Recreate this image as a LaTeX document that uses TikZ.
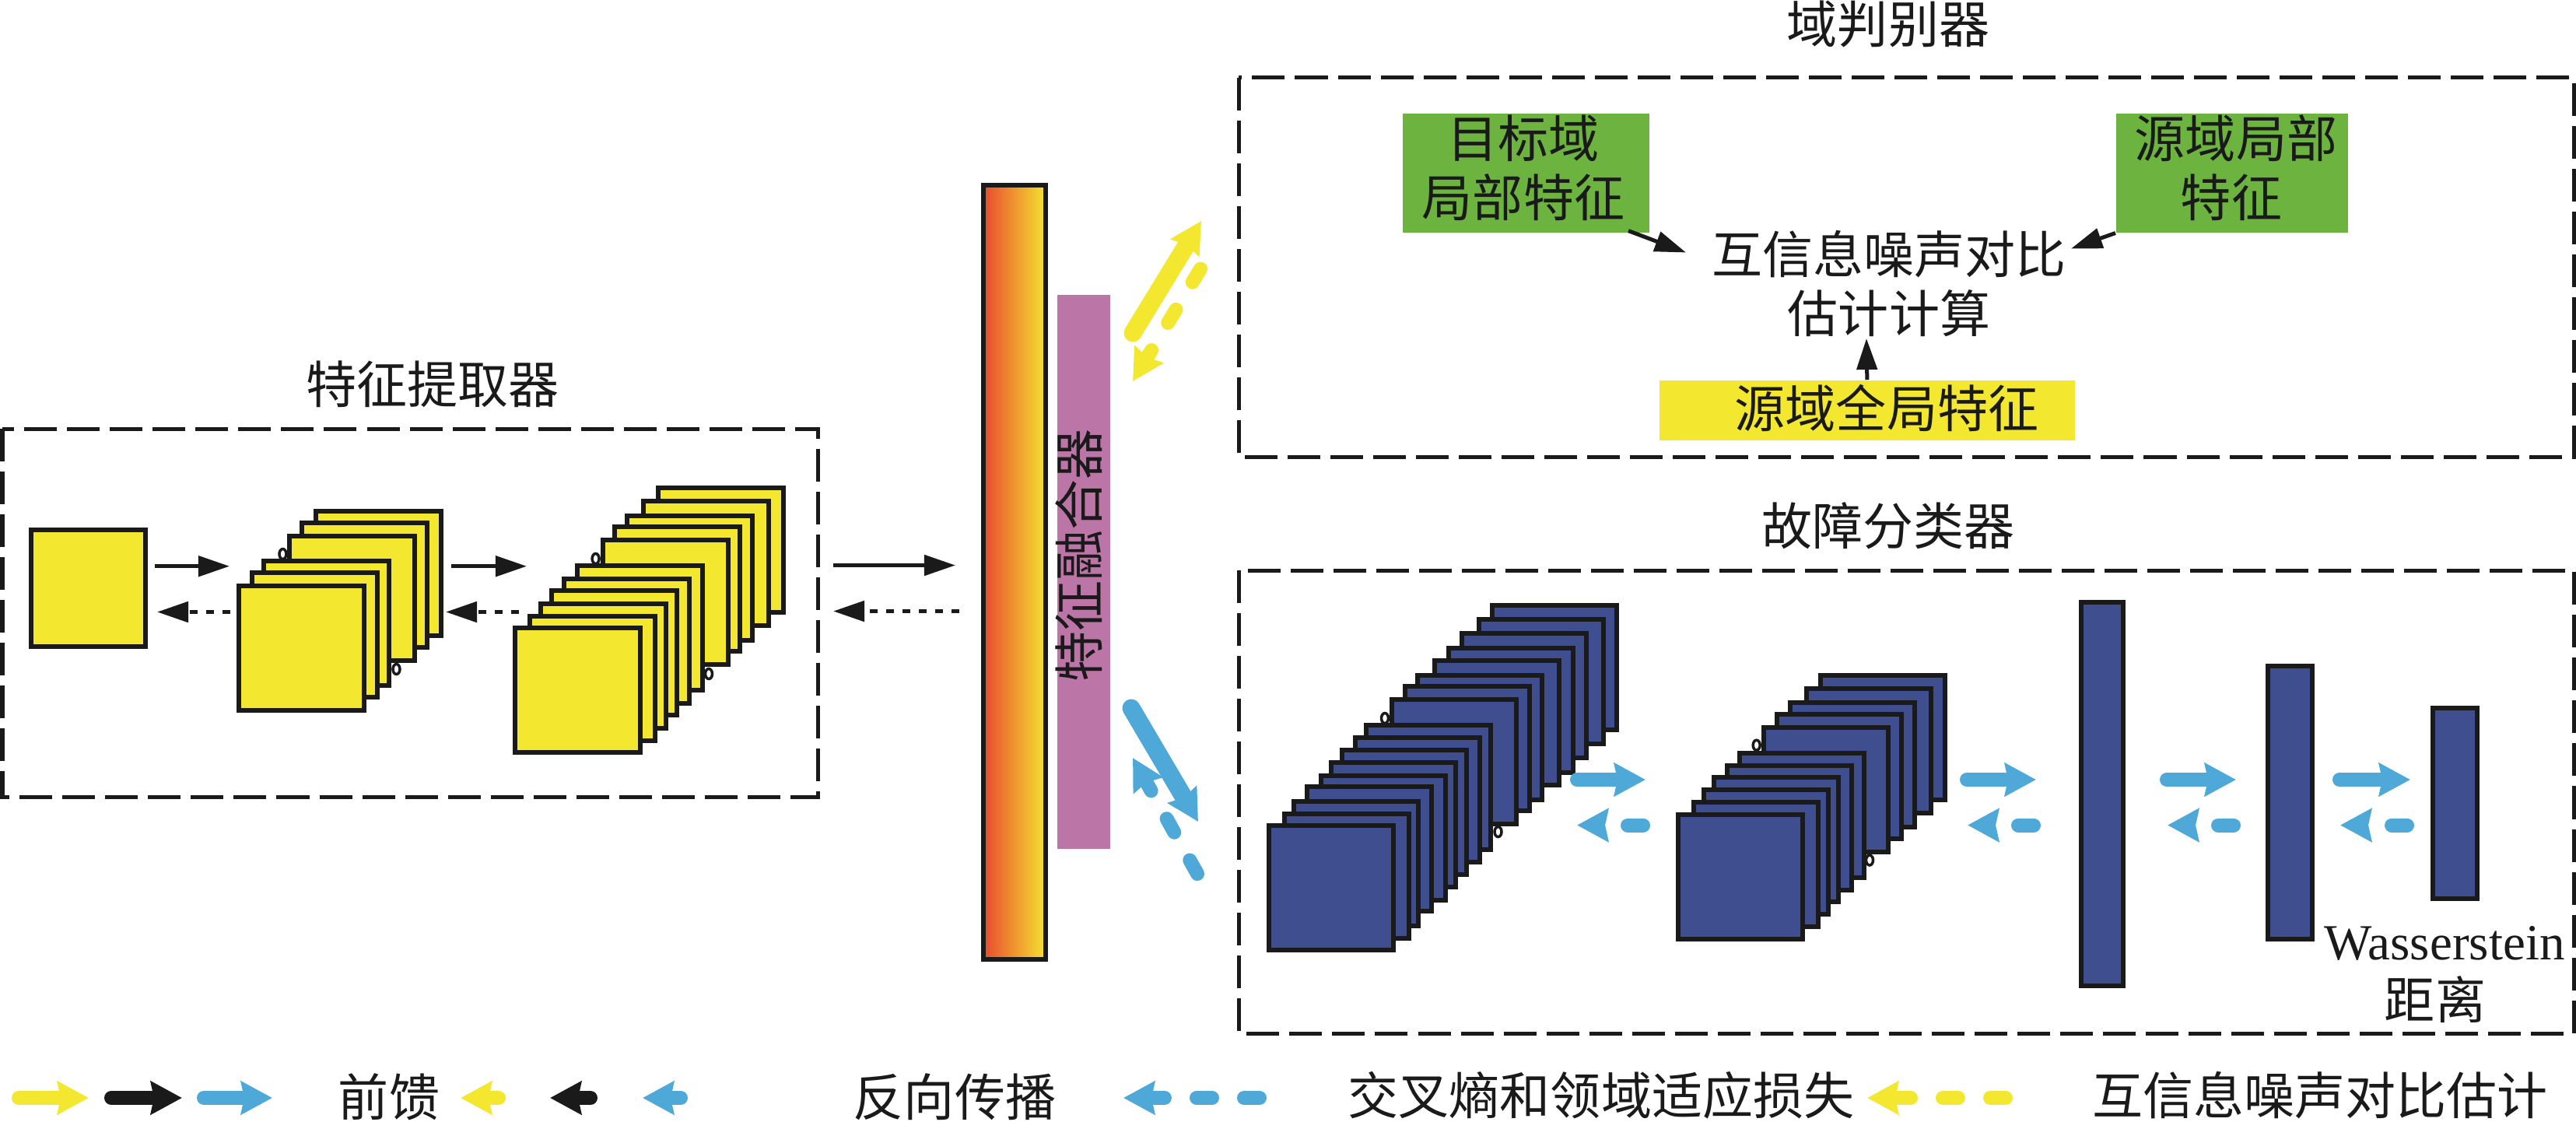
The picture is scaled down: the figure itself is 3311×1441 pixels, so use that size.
\documentclass[tikz,border=0pt]{standalone}
\usepackage{fontspec}
\setmainfont{Liberation Serif}
\newfontfamily\cjk{Noto Sans CJK SC}
\usetikzlibrary{arrows.meta}
\definecolor{ink}{HTML}{1A1A1A}
\definecolor{yel}{HTML}{F3E82F}
\definecolor{sky}{HTML}{4EA9D8}
\definecolor{navy}{HTML}{3E4E8E}
\definecolor{grn}{HTML}{6CB33F}
\definecolor{pur}{HTML}{BC75A7}
\definecolor{gradred}{HTML}{E94A2F}
\definecolor{gradyel}{HTML}{F5E22F}
\tikzset{
  lab/.style={font=\cjk\fontsize{18.5}{21.6}\selectfont,text=ink,inner sep=0pt,align=center},
  latinlab/.style={font=\fontsize{18.5}{21.6}\selectfont,text=ink,inner sep=0pt},
  dashbox/.style={draw=ink,line width=0.05cm,dash pattern=on 0.42cm off 0.13cm},
  sheet/.style={draw=ink,line width=0.06cm,fill=#1},
  fillbox/.style={fill=#1,inner sep=0pt,anchor=north west},
  ring/.style={draw=ink,line width=0.035cm,fill=white},
  thin arrow/.style={draw=ink,line width=0.05cm,-{Stealth[length=0.4cm,width=0.26cm,inset=0pt,color=ink]}},
  thin back/.style={thin arrow,dash pattern=on 0.1cm off 0.11cm},
  fat/.style={draw=#1,line width=0.18cm,line cap=round,-{Stealth[length=0.4cm,width=0.42cm,inset=0.04cm,color=#1]}},
  fat dash/.style={fat=#1,dash pattern=on 0.2cm off 0.41cm},
  fat dot/.style={fat=#1,dash pattern=on 0.2cm off 1.5cm},
  fat diag/.style={fat=#1,line width=0.23cm},
}
\newcommand\linkarrow[4]{\coordinate (#1a) at (#3); \coordinate (#1b) at (#4); \draw[#2] (#1a) -- (#1b);}
\begin{document}
\begin{tikzpicture}[x=0.01cm,y=-0.01cm]
\useasboundingbox (0,0) rectangle (3311,1441);
% dashed frames
\draw[dashbox] (3,551) rectangle (1051,1024);
\draw[dashbox] (1592,99.5) rectangle (3308,587);
\draw[dashbox] (1592,733) rectangle (3308,1328);
% titles
\node[lab] (tExtract) at (556,494) {特征提取器};
\node[lab] (tDomain) at (2427,31) {域判别器};
\node[lab] (tFault) at (2427,676) {故障分类器};
% yellow stacks
\foreach \x/\y in {405.6/656.5,388/672,372/688.5,339/721,324/736,307/753}
  \draw[sheet=yel] (\x,\y) rectangle ++(161,160);
\foreach \x/\y in {845.6/627,826.7/644,805.6/662.7,789.5/677,774.7/694,741.8/727.3,725/744,708.8/758.5,694.7/775.8,680.7/791.5,661.8/807}
  \draw[sheet=yel] (\x,\y) rectangle ++(161,160);
\draw[sheet=yel] (40,681) rectangle (187,831);
\foreach \x/\y in {363.5/712,509.5/860,765.6/718,911/866}
  \draw[ring] (\x,\y) ellipse (4.5 and 6.5);
% extractor arrows
\linkarrow{ea}{thin arrow}{199,727.7}{295,727.7}
\linkarrow{eb}{thin arrow}{580,727.7}{677,727.7}
\linkarrow{ec}{thin back}{296,786.5}{202,786.5}
\linkarrow{ed}{thin back}{667,786.5}{573,786.5}
\linkarrow{ee}{thin arrow}{1071,726.5}{1228,726.5}
\linkarrow{ef}{thin back}{1233,785.5}{1071,785.5}
% gradient bar and purple bar
\draw[draw=ink,line width=0.06cm,left color=gradred,right color=gradyel] (1264,238) rectangle (1344,1233);
\node[fillbox=pur,minimum width=0.68cm,minimum height=7.12cm] (purbar) at (1358,378) {};
\node[lab,rotate=90] (tFusion) at (1387,714) {特征融合器};
% diagonal arrows
\linkarrow{ya}{fat diag=yel}{1456,428}{1544,284}
\linkarrow{yb}{fat dash=yel}{1543,345.5}{1456,490}
\linkarrow{ba}{fat diag=sky}{1454,910}{1540,1056}
\linkarrow{bb}{fat dash=sky}{1539,1123}{1456,974}
% domain discriminator
\node[fillbox=grn,minimum width=3.17cm,minimum height=1.53cm] (gA) at (1802,145) {};
\node[fillbox=grn,minimum width=2.98cm,minimum height=1.53cm] (gB) at (2719,145) {};
\node[fillbox=yel,minimum width=5.34cm,minimum height=0.77cm] (gC) at (2132,488) {};
\node[lab] (tA) at (1958,216) {目标域\\局部特征};
\node[lab] (tB) at (2868,216) {\hspace*{0.12cm}源域局部\\特征};
\node[lab] (tC) at (2399,524) {\hspace*{0.52cm}源域全局特征};
\node[lab] (tMI) at (2428,364) {互信息噪声对比\\估计计算};
\coordinate (gAout) at (2093,296.6);
\coordinate (tMIw) at (2167,324.5);
\coordinate (tMIe) at (2662,319.5);
\coordinate (tMIs) at (2399,435);
\draw[thin arrow] (gAout) -- (tMIw);
\draw[thin arrow] (gB.south west) -- (tMIe);
\draw[thin arrow] (gC.north) -- (tMIs);
% navy stacks
\foreach \x/\y in {1916.6/777.4,1899/794.7,1877/812.8,1860/832,1842.7/847.7,1820.6/866.6,1804/881.4,1787.5/897.5,1754.4/930.8,1740/947.3,1723.5/963,1709/979,1696/996,1678/1009.6,1661.7/1028.8,1649.5/1045.3,1629.7/1059.8}
  \draw[sheet=navy] (\x+1.5,\y+1) rectangle ++(160,160);
\foreach \x/\y in {2338.3/866.6,2320.6/883.5,2299.7/901.5,2282/916.8,2265.4/934,2234.5/967,2218/983,2201.4/997.5,2188/1013.6,2175/1030.4,2155/1045.7}
  \draw[sheet=navy] (\x+1.5,\y+1) rectangle ++(160,160);
\foreach \x/\y in {1780/923,1925.5/1069,2257.7/957.7,2403/1105.5}
  \draw[ring] (\x,\y) ellipse (4.5 and 6.5);
\draw[sheet=navy] (2675,774) rectangle (2729,1267);
\draw[sheet=navy] (2915,856) rectangle (2972,1207);
\draw[sheet=navy] (3127,909.5) rectangle (3184,1155);
% classifier arrows
\linkarrow{ca}{fat=sky}{2027,1002}{2115,1002}
\linkarrow{cb}{fat=sky}{2528,1002}{2617,1002}
\linkarrow{cc}{fat=sky}{2785,1002}{2874,1002}
\linkarrow{cd}{fat=sky}{3007,1002}{3098,1002}
\linkarrow{ce}{fat dot=sky}{2112,1060.5}{2027,1060.5}
\linkarrow{cf}{fat dot=sky}{2614,1060.5}{2529,1060.5}
\linkarrow{cg}{fat dot=sky}{2871,1060.5}{2786,1060.5}
\linkarrow{ch}{fat dot=sky}{3094,1060.5}{3008,1060.5}
\node[latinlab] (tW) at (3142,1212) {Wasserstein};
\node[lab] (tDist) at (3130,1284) {距离};
% legend
\linkarrow{la}{fat=yel}{24,1411}{114,1411}
\linkarrow{lb}{fat=ink}{143,1411}{234,1411}
\linkarrow{lc}{fat=sky}{262,1411}{350,1411}
\node[lab] (tFwd) at (500,1410) {前馈};
\linkarrow{ld}{fat=yel}{641,1411}{592,1411}
\linkarrow{le}{fat=ink}{759,1411}{707,1411}
\linkarrow{lf}{fat=sky}{875,1411}{826,1411}
\node[lab] (tBack) at (1227,1410) {反向传播};
\linkarrow{lg}{fat dash=sky}{1619,1411}{1444,1411}
\node[lab] (tCE) at (2058,1408) {交叉熵和领域适应损失};
\linkarrow{lh}{fat dash=yel}{2578,1411}{2400,1411}
\node[lab] (tMIE) at (2982,1408) {互信息噪声对比估计};
\end{tikzpicture}
\end{document}
